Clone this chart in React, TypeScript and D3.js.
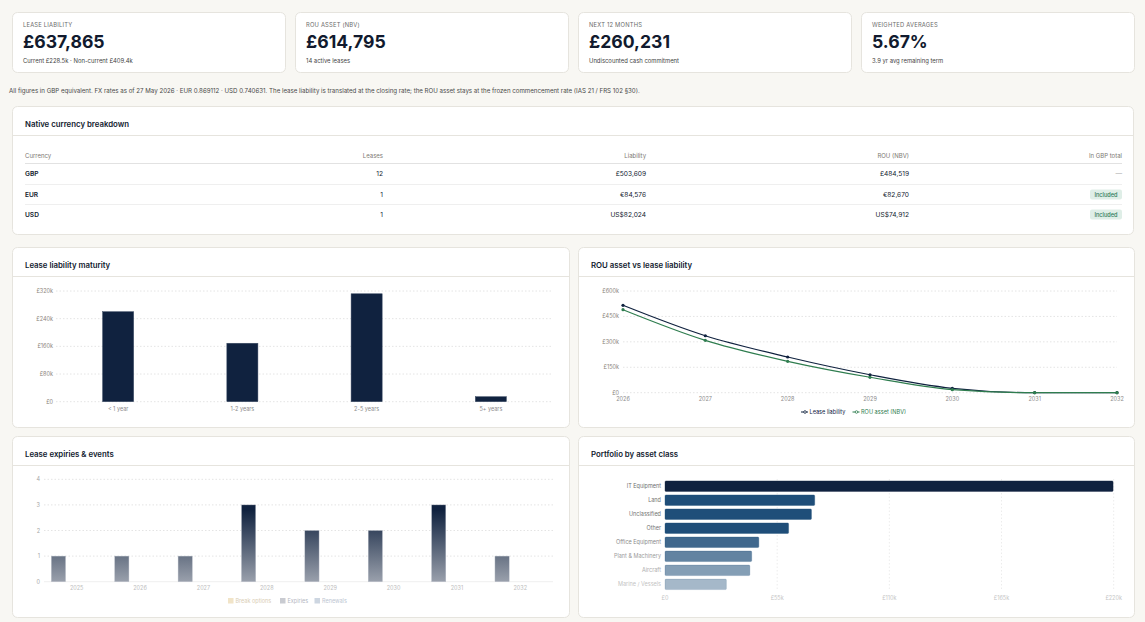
import * as d3 from "d3";

const FONT = "Inter, 'Noto Sans', sans-serif";
const NAVY = "#10223f";
const INK = "#111a2e";
const GREEN = "#2f7d4f";
const BORDER = "#e6e4de";
const GRID = "#e4e4e4";

// headline figures
const kpiLabels = ["LEASE LIABILITY", "ROU ASSET (NBV)", "NEXT 12 MONTHS", "WEIGHTED AVERAGES"];
const kpiValues = ["£637,865", "£614,795", "£260,231", "5.67%"];
const kpiNotes = [
  "Current £228.5k · Non-current £409.4k",
  "14 active leases",
  "Undiscounted cash commitment",
  "3.9 yr avg remaining term",
];

const fxNote =
  "All figures in GBP equivalent. FX rates as of 27 May 2026 · EUR 0.869112 · USD 0.740631. The lease liability is translated at the closing rate; the ROU asset stays at the frozen commencement rate (IAS 21 / FRS 102 §30).";

// native currency table
const tableHeaders = ["Currency", "Leases", "Liability", "ROU (NBV)", "In GBP total"];
const currencies = ["GBP", "EUR", "USD"];
const leaseCounts = [12, 1, 1];
const liabilityNative = ["£503,609", "€84,576", "US$82,024"];
const rouNative = ["£484,519", "€82,670", "US$74,912"];
const inGbpTotal = ["—", "Included", "Included"];

// maturity analysis (undiscounted, GBP)
const maturityBuckets = ["< 1 year", "1-2 years", "2-5 years", "5+ years"];
const maturityValues = [260231, 169000, 312000, 14500];
const maturityTicks = [0, 80000, 160000, 240000, 320000];

// year-end balances
const balanceYears = ["2026", "2027", "2028", "2029", "2030", "2031", "2032"];
const liabilityByYear = [515600, 336000, 210600, 106000, 26000, 0, 0];
const rouByYear = [489700, 309000, 185000, 91000, 18000, 0, 0];
const balanceTicks = [0, 150000, 300000, 450000, 600000];

// lease events per year
const eventYears = ["2025", "2026", "2027", "2028", "2029", "2030", "2031", "2032"];
const expiries = [1, 1, 1, 3, 2, 2, 3, 1];
const breakOptions = [0, 0, 0, 0, 0, 0, 0, 0];
const renewals = [0, 0, 0, 0, 0, 0, 0, 0];
const eventTicks = [0, 1, 2, 3, 4];

// liability by asset class
const assetClasses = [
  "IT Equipment",
  "Land",
  "Unclassified",
  "Other",
  "Office Equipment",
  "Plant & Machinery",
  "Aircraft",
  "Marine / Vessels",
];
const assetValues = [219700, 73400, 71800, 60600, 46000, 42500, 41600, 30100];
const assetTicks = [0, 55000, 110000, 165000, 220000];

const fmtK = (v: number) => (v === 0 ? "£0" : `£${Math.round(v / 1000)}k`);

function Card({ x, y, w, h, title }: { x: number; y: number; w: number; h: number; title?: string }) {
  return (
    <g>
      <rect x={x + 0.5} y={y + 0.5} width={w} height={h} rx={5} fill="#fff" stroke={BORDER} />
      {title && (
        <>
          <text x={x + 13} y={y + 17.5} fontSize={7.8} fontWeight={600} fill={INK} dominantBaseline="central">
            {title}
          </text>
          <line x1={x + 1} x2={x + w} y1={y + 29.5} y2={y + 29.5} stroke={BORDER} />
        </>
      )}
    </g>
  );
}

function Kpis() {
  return (
    <g>
      {kpiLabels.map((label, i) => {
        const x = 12 + i * 283;
        return (
          <g key={label}>
            <Card x={x} y={12} w={273} h={60} />
            <text x={x + 11} y={24.5} fontSize={5.8} fill="#6b6b6b" letterSpacing={0.2} dominantBaseline="central">
              {label}
            </text>
            <text x={x + 11} y={48.3} fontSize={17.6} fontWeight={700} fill={INK}>
              {kpiValues[i]}
            </text>
            <text x={x + 11} y={60.5} fontSize={5.9} fill="#444" dominantBaseline="central">
              {kpiNotes[i]}
            </text>
          </g>
        );
      })}
      <text x={9} y={90} fontSize={6.15} fill="#4a4a4a" dominantBaseline="central">
        {fxNote}
      </text>
    </g>
  );
}

function CurrencyTable() {
  const colRight = [0, 383, 646, 909, 1122];
  const rowY = [173.5, 194.5, 214.5];
  return (
    <g>
      <Card x={12} y={106} w={1121} h={128} title="Native currency breakdown" />
      {tableHeaders.map((h, i) => (
        <text
          key={h}
          x={i === 0 ? 25 : colRight[i]}
          y={155}
          textAnchor={i === 0 ? "start" : "end"}
          fontSize={6}
          fill="#7d7873"
          dominantBaseline="central"
        >
          {h}
        </text>
      ))}
      <line x1={25} x2={1122} y1={163.5} y2={163.5} stroke="#e2e2e2" />
      {[184.5, 204.5].map((y) => (
        <line key={y} x1={25} x2={1122} y1={y} y2={y} stroke="#efefef" />
      ))}
      {currencies.map((c, r) => (
        <g key={c} fontSize={6.6} fill={INK}>
          <text x={25} y={rowY[r]} fontWeight={600} dominantBaseline="central">
            {c}
          </text>
          <text x={colRight[1]} y={rowY[r]} textAnchor="end" dominantBaseline="central">
            {leaseCounts[r]}
          </text>
          <text x={colRight[2]} y={rowY[r]} textAnchor="end" dominantBaseline="central">
            {liabilityNative[r]}
          </text>
          <text x={colRight[3]} y={rowY[r]} textAnchor="end" dominantBaseline="central">
            {rouNative[r]}
          </text>
          {inGbpTotal[r] === "Included" ? (
            <g>
              <rect x={1090} y={rowY[r] - 5} width={32} height={10} rx={2} fill="#dfeee7" />
              <text x={1106} y={rowY[r]} textAnchor="middle" fontSize={5.6} fontWeight={500} fill="#2c7a5a" dominantBaseline="central">
                {inGbpTotal[r]}
              </text>
            </g>
          ) : (
            <text x={1122} y={rowY[r]} textAnchor="end" fill="#aaa" dominantBaseline="central">
              {inGbpTotal[r]}
            </text>
          )}
        </g>
      ))}
    </g>
  );
}

function MaturityChart() {
  const x = d3.scaleBand<string>().domain(maturityBuckets).range([56, 553]);
  const y = d3.scaleLinear().domain([0, 320000]).range([401.7, 291]);
  const bw = x.bandwidth() * 0.25;
  return (
    <g>
      <Card x={12} y={247} w={557} h={180} title="Lease liability maturity" />
      {maturityTicks.map((t) => (
        <g key={t}>
          <line x1={56} x2={553} y1={y(t)} y2={y(t)} stroke={GRID} strokeDasharray="1.5 2" />
          <text x={53} y={y(t)} textAnchor="end" fontSize={5.5} fill="#8c857c" dominantBaseline="central">
            {fmtK(t)}
          </text>
        </g>
      ))}
      {maturityBuckets.map((b, i) => (
        <g key={b}>
          <rect
            x={x(b)! + (x.bandwidth() - bw) / 2}
            y={y(maturityValues[i])}
            width={bw}
            height={y(0) - y(maturityValues[i])}
            fill={NAVY}
            stroke="#3a4a63"
            strokeWidth={0.5}
          />
          <text x={x(b)! + x.bandwidth() / 2} y={408.5} textAnchor="middle" fontSize={5.5} fill="#8a8a8a" dominantBaseline="central">
            {b}
          </text>
        </g>
      ))}
    </g>
  );
}

function BalanceChart() {
  const x = d3.scalePoint<string>().domain(balanceYears).range([623, 1117]);
  const y = d3.scaleLinear().domain([0, 600000]).range([392.7, 291]);
  const line = d3
    .line<number>()
    .x((_, i) => x(balanceYears[i])!)
    .y((d) => y(d))
    .curve(d3.curveMonotoneX);
  const series = [
    { name: "Lease liability", values: liabilityByYear, color: NAVY },
    { name: "ROU asset (NBV)", values: rouByYear, color: GREEN },
  ];
  const legendX = [801, 852.5];
  return (
    <g>
      <Card x={578} y={247} w={556} h={180} title="ROU asset vs lease liability" />
      {balanceTicks.map((t) => (
        <g key={t}>
          <line x1={623} x2={1117} y1={y(t)} y2={y(t)} stroke={GRID} strokeDasharray="1.5 2" />
          <text x={619} y={y(t)} textAnchor="end" fontSize={5.5} fill="#8c857c" dominantBaseline="central">
            {fmtK(t)}
          </text>
        </g>
      ))}
      {balanceYears.map((yr) => (
        <text key={yr} x={x(yr)} y={399} textAnchor="middle" fontSize={5.5} fill="#8a8a8a" dominantBaseline="central">
          {yr}
        </text>
      ))}
      {series.map((s) => (
        <g key={s.name}>
          <path d={line(s.values)!} fill="none" stroke={s.color} strokeWidth={1.2} />
          {s.values.map((v, i) => (
            <circle key={i} cx={x(balanceYears[i])} cy={y(v)} r={1.6} fill={s.color} />
          ))}
        </g>
      ))}
      {series.map((s, i) => (
        <g key={s.name}>
          <line x1={legendX[i]} x2={legendX[i] + 7} y1={412} y2={412} stroke={s.color} strokeWidth={1} />
          <circle cx={legendX[i] + 4} cy={412} r={1.3} fill="#fff" stroke={s.color} strokeWidth={0.8} />
          <text x={legendX[i] + 8.5} y={412} fontSize={5.6} fill={s.color} dominantBaseline="central">
            {s.name}
          </text>
        </g>
      ))}
    </g>
  );
}

function EventsChart() {
  const x0 = d3.scaleBand<string>().domain(eventYears).range([45, 552]);
  const bw = x0.bandwidth();
  const groups = ["expiries", "breakOptions", "renewals"];
  const x1 = d3.scaleBand<string>().domain(groups).range([bw * 0.1, bw * 0.9]).paddingInner(0.22);
  const y = d3.scaleLinear().domain([0, 4]).range([581.7, 479.3]);
  const values: Record<string, number[]> = { expiries, breakOptions, renewals };
  const fills: Record<string, string> = { expiries: "url(#expiryFade)", breakOptions: "#efe1c2", renewals: "#c9d3df" };
  const legend = [
    { name: "Break options", swatch: "#f1e4c8", text: "#d9cdb4" },
    { name: "Expiries", swatch: "#c9cbd1", text: "#b4b7bf" },
    { name: "Renewals", swatch: "#cdd6e1", text: "#bcc6d2" },
  ];
  const legendX = [228, 280, 314.5];
  return (
    <g>
      <defs>
        <linearGradient id="expiryFade" gradientUnits="userSpaceOnUse" x1={0} x2={0} y1={510} y2={585}>
          <stop offset="0%" stopColor="#10223f" />
          <stop offset="100%" stopColor="#a0a6b1" />
        </linearGradient>
      </defs>
      <Card x={12} y={436} w={557} h={181} title="Lease expiries & events" />
      {eventTicks.map((t) => (
        <g key={t}>
          <line x1={44} x2={553} y1={y(t)} y2={y(t)} stroke={t === 0 ? "#efefef" : GRID} strokeDasharray={t === 0 ? undefined : "1.5 2"} />
          <text x={40} y={y(t)} textAnchor="end" fontSize={5.5} fill="#a5a5a5" dominantBaseline="central">
            {t}
          </text>
        </g>
      ))}
      {eventYears.map((yr, i) => (
        <g key={yr}>
          {groups.map((g) =>
            values[g][i] > 0 ? (
              <rect
                key={g}
                x={x0(yr)! + x1(g)!}
                y={y(values[g][i])}
                width={x1.bandwidth()}
                height={y(0) - y(values[g][i])}
                fill={fills[g]}
                stroke="#b9bec8"
                strokeWidth={0.4}
              />
            ) : null
          )}
          <text x={x0(yr)! + bw / 2} y={588} textAnchor="middle" fontSize={5.5} fill="#bdbdbd" dominantBaseline="central">
            {yr}
          </text>
        </g>
      ))}
      {legend.map((l, i) => (
        <g key={l.name}>
          <rect x={legendX[i]} y={598} width={5.5} height={5.5} fill={l.swatch} />
          <text x={legendX[i] + 7.5} y={600.8} fontSize={5.5} fill={l.text} dominantBaseline="central">
            {l.name}
          </text>
        </g>
      ))}
    </g>
  );
}

function AssetClassChart() {
  const x = d3.scaleLinear().domain([0, 220000]).range([665, 1113.7]);
  const y = d3.scaleBand<string>().domain(assetClasses).range([479.5, 591]).paddingInner(0.25).paddingOuter(0.1);
  const opacity = [1, 1, 1, 1, 0.85, 0.7, 0.55, 0.4];
  const labelColor = ["#6e6e6e", "#727272", "#727272", "#767676", "#8a8a8a", "#9c9c9c", "#adadad", "#c4c4c4"];
  return (
    <g>
      <Card x={578} y={436} w={556} h={181} title="Portfolio by asset class" />
      {assetTicks.slice(1).map((t) => (
        <line key={t} x1={x(t)} x2={x(t)} y1={479} y2={591} stroke="#ececec" strokeDasharray="1.5 2" />
      ))}
      {assetTicks.map((t) => (
        <text key={t} x={x(t)} y={597.5} textAnchor="middle" fontSize={5.5} fill="#c6c6c6" dominantBaseline="central">
          {fmtK(t)}
        </text>
      ))}
      {assetClasses.map((c, i) => (
        <g key={c}>
          <rect
            x={x(0)}
            y={y(c)}
            width={x(assetValues[i]) - x(0)}
            height={y.bandwidth()}
            rx={1}
            fill={i === 0 ? NAVY : "#1f4e79"}
            fillOpacity={opacity[i]}
            stroke={i === 0 ? NAVY : "#1f4e79"}
            strokeOpacity={opacity[i] * 0.6}
            strokeWidth={0.6}
          />
          <text x={661} y={y(c)! + y.bandwidth() / 2} textAnchor="end" fontSize={5.5} fill={labelColor[i]} dominantBaseline="central">
            {c}
          </text>
        </g>
      ))}
    </g>
  );
}

export default function App() {
  return (
    <svg
      width={1145}
      height={622}
      viewBox="0 0 1145 622"
      style={{ position: "absolute", left: 0, top: 0, fontFamily: FONT, display: "block" }}
    >
      <rect width={1145} height={622} fill="#f8f7f3" />
      <Kpis />
      <CurrencyTable />
      <MaturityChart />
      <BalanceChart />
      <EventsChart />
      <AssetClassChart />
    </svg>
  );
}
